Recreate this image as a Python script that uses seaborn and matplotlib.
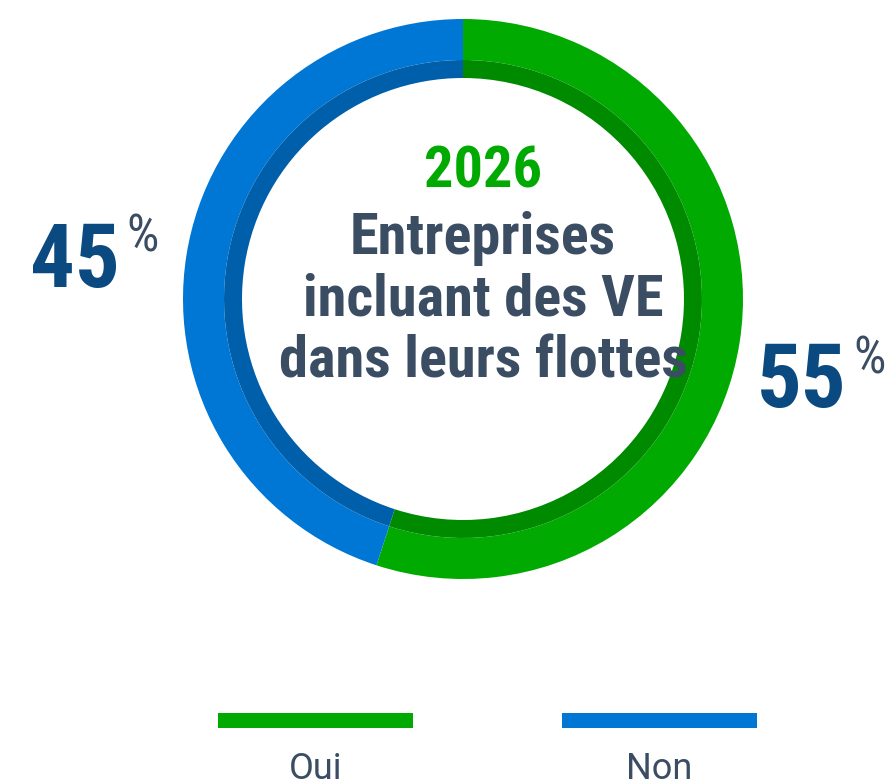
import matplotlib
matplotlib.use("Agg")
import matplotlib.pyplot as plt
from matplotlib.patches import Rectangle
import seaborn as sns

# Share of companies including EVs in their fleets (2026)
categories = ["Oui", "Non"]
shares = [55, 45]
year_label = "2026"
title_lines = ["Entreprises", "incluant des VE", "dans leurs flottes"]

sns.set_theme(style="white")
plt.rcParams["font.family"] = ["Roboto Condensed", "DejaVu Sans"]

main_colors = ["#00aa00", "#0077d4"]
inner_colors = ["#008a00", "#005fab"]
text_color = "#3b4d63"
value_color = "#0a4a80"

W, H = 887, 781
fig = plt.figure(figsize=(W / 100, H / 100), dpi=100)
ax = fig.add_axes([0, 0, 1, 1])

cx, cy = 463, H - 299
R_out, R_mid, R_in = 280, 239, 221

ax.pie(shares, colors=main_colors, radius=R_out, center=(cx, cy),
       startangle=90, counterclock=False,
       wedgeprops=dict(width=R_out - R_mid, linewidth=0))
ax.pie(shares, colors=inner_colors, radius=R_mid, center=(cx, cy),
       startangle=90, counterclock=False,
       wedgeprops=dict(width=R_mid - R_in, linewidth=0))
ax.set_xlim(0, W)
ax.set_ylim(0, H)
ax.set_aspect("auto")
ax.axis("off")

# centre caption
tx = 483
ax.text(tx, H - 172, year_label, ha="center", va="center", fontsize=42,
        fontweight="bold", color=main_colors[0])
for yy, line in zip([238, 300, 362], title_lines):
    ax.text(tx, H - yy, line, ha="center", va="center", fontsize=42,
            fontweight="bold", color=text_color)


# percentage labels with a raised "%" sign
def pct_label(x_pct_right, y_base, y_pct_base, value):
    ax.text(x_pct_right, H - y_pct_base, "%", ha="right", va="baseline",
            fontsize=37, color=text_color)
    ax.text(x_pct_right - 39, H - y_base, f"{value}", ha="right",
            va="baseline", fontsize=64, fontweight="bold", color=value_color)


pct_label(159, 287, 251, shares[1])
pct_label(886, 407, 374, shares[0])

# legend
legend_x = [218, 562]
for x0, col, lab in zip(legend_x, main_colors, categories):
    ax.add_patch(Rectangle((x0, H - 728), 195, 15, color=col, lw=0))
    ax.text(x0 + 97.5, H - 769, lab, ha="center", va="center",
            fontsize=26, color=text_color, family=["Roboto", "DejaVu Sans"])

fig.savefig("out.png", dpi=100)
